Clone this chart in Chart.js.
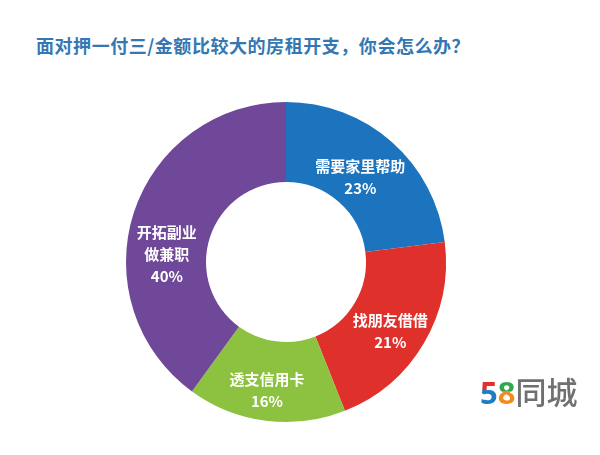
<!DOCTYPE html>
<html>
<head>
<meta charset="utf-8">
<script src="https://cdn.jsdelivr.net/npm/chart.js@4/dist/chart.umd.min.js"></script>
<style>
  html, body { margin: 0; padding: 0; background: #fff; }
  #wrap { position: relative; width: 600px; height: 455px; overflow: hidden; }
  #title {
    position: absolute; left: 36px; top: 32px;
    font: bold 18px "Noto Sans CJK SC", sans-serif; letter-spacing: 0.55px;
    color: #3577b3; white-space: nowrap;
  }
  #logo {
    position: absolute; left: 480px; top: 368px;
    font: 500 31px "Noto Sans CJK SC", sans-serif; white-space: nowrap;
    color: #707070;
  }
  #logo .n5 {
    font-family: "Noto Sans", sans-serif; font-weight: bold;
    background: linear-gradient(#e3302d 45%, #1d7cc4 45%);
    -webkit-background-clip: text; background-clip: text; color: transparent;
  }
  #logo .n8 {
    font-family: "Noto Sans", sans-serif; font-weight: bold;
    background: linear-gradient(#2fa84f 48%, #f28a1c 48%);
    -webkit-background-clip: text; background-clip: text; color: transparent;
  }
  canvas { position: absolute; left: 0; top: 0; }
</style>
</head>
<body>
<div id="wrap">
  <div id="title">面对押一付三/金额比较大的房租开支，你会怎么办？</div>
  <canvas id="donut" width="600" height="455"></canvas>
  <div id="logo"><span class="n5">5</span><span class="n8">8</span>同城</div>
</div>
<script>
const categories = ["需要家里帮助", "找朋友借借", "透支信用卡", ["开拓副业", "做兼职"]];
const shares = [23, 21, 16, 40];
const sliceColors = ["#1b74bd", "#e0302c", "#8cc240", "#70489a"];

// small nudges so the labels sit where they do in the original
const labelNudge = [[-5, 5], [1, 8], [-4, 9], [-5, 29]];

const sliceLabels = {
  id: "sliceLabels",
  afterDatasetsDraw(chart) {
    const ctx = chart.ctx;
    const meta = chart.getDatasetMeta(0);
    ctx.save();
    ctx.fillStyle = "#fff";
    ctx.textAlign = "center";
    ctx.textBaseline = "middle";
    ctx.font = "bold 15px 'Noto Sans CJK SC', sans-serif";
    meta.data.forEach((arc, i) => {
      const p = arc.getProps(["x", "y", "startAngle", "endAngle", "innerRadius", "outerRadius"], true);
      const mid = (p.startAngle + p.endAngle) / 2;
      const r = (p.innerRadius + p.outerRadius) / 2;
      const cx = p.x + Math.cos(mid) * r + labelNudge[i][0];
      const cy = p.y + Math.sin(mid) * r + labelNudge[i][1];
      let lines = [].concat(chart.data.labels[i]);
      lines.push(shares[i] + "%");
      const lh = 22;
      const top = cy - (lines.length - 1) * lh / 2;
      lines.forEach((t, k) => ctx.fillText(t, cx, top + k * lh));
    });
    ctx.restore();
  }
};

new Chart(document.getElementById("donut"), {
  type: "doughnut",
  data: {
    labels: categories,
    datasets: [{
      data: shares,
      backgroundColor: sliceColors,
      borderWidth: 0
    }]
  },
  options: {
    responsive: false,
    animation: false,
    cutout: "50%",
    layout: { padding: { left: 126, right: 154, top: 102, bottom: 33 } },
    plugins: {
      legend: { display: false },
      tooltip: { enabled: false },
      title: { display: false }
    }
  },
  plugins: [sliceLabels]
});
</script>
</body>
</html>
